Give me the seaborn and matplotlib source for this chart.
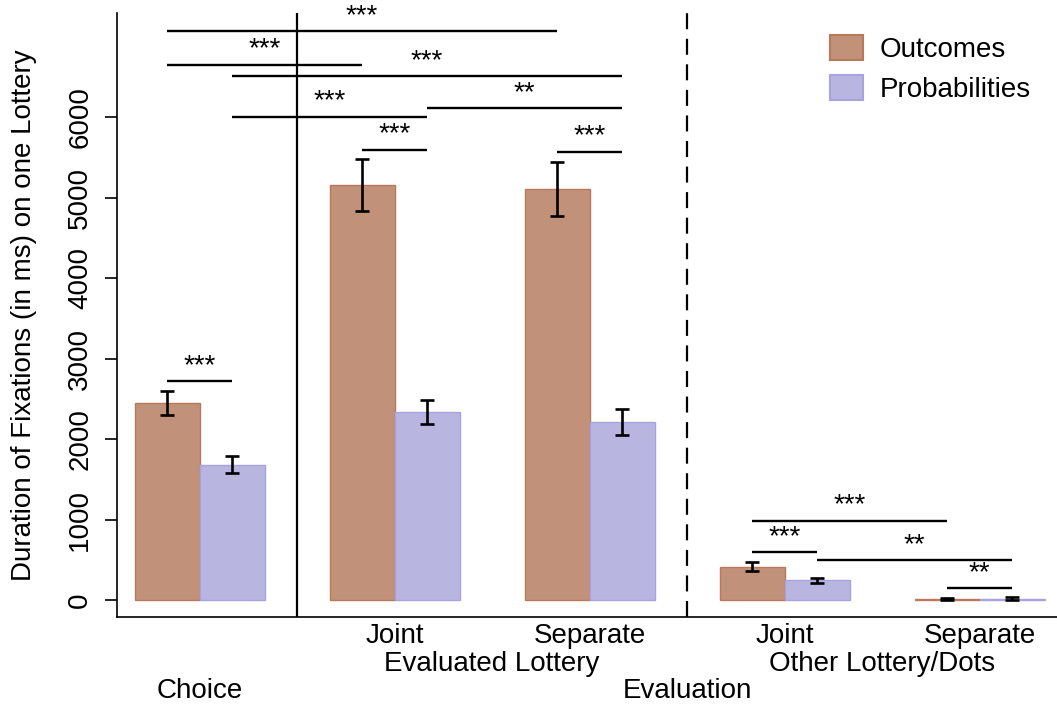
import numpy as np
import pandas as pd
import matplotlib
matplotlib.use("Agg")
import matplotlib.pyplot as plt
import seaborn as sns
from matplotlib.patches import Patch

# ---------------- data ----------------
groups = ["Choice", "Eval Joint", "Eval Separate", "Other Joint", "Other Separate"]
group_pos = [0, 3, 6, 9, 12]
measures = ["Outcomes", "Probabilities"]
outcomes_mean = [2450, 5150, 5105, 414, 8]
outcomes_se = [150, 323, 340, 54, 12]
prob_mean = [1680, 2335, 2215, 245, 17]
prob_se = [107, 150, 160, 29, 16]

# significance brackets: (group, measure) -> (group, measure), height, label
br_g1 = ["Choice", "Choice", "Choice", "Choice", "Eval Joint", "Eval Joint",
         "Eval Separate", "Choice", "Other Joint", "Other Joint", "Other Joint",
         "Other Separate"]
br_m1 = ["Outcomes", "Outcomes", "Probabilities", "Probabilities", "Probabilities",
         "Outcomes", "Outcomes", "Outcomes", "Outcomes", "Outcomes", "Probabilities",
         "Outcomes"]
br_g2 = ["Eval Separate", "Eval Joint", "Eval Separate", "Eval Joint", "Eval Separate",
         "Eval Joint", "Eval Separate", "Choice", "Other Separate", "Other Joint",
         "Other Separate", "Other Separate"]
br_m2 = ["Outcomes", "Outcomes", "Probabilities", "Probabilities", "Probabilities",
         "Probabilities", "Probabilities", "Probabilities", "Outcomes", "Probabilities",
         "Probabilities", "Probabilities"]
br_y = [7065, 6646, 6506, 6004, 6108, 5594, 5565, 2717, 985, 593, 493, 145]
br_lab = ["***", "***", "***", "***", "**", "***", "***", "***", "***", "***", "**", "**"]

yticks = [0, 1000, 2000, 3000, 4000, 5000, 6000]
ylabel = "Duration of Fixations (in ms) on one Lottery"

face_colors = {"Outcomes": "#C1917A", "Probabilities": "#B8B6E1"}
edge_colors = {"Outcomes": "#B8785C", "Probabilities": "#A8A2E0"}

df = pd.DataFrame({
    "group": groups * 2,
    "pos": group_pos * 2,
    "measure": [measures[0]] * len(groups) + [measures[1]] * len(groups),
    "mean": outcomes_mean + prob_mean,
    "se": outcomes_se + prob_se,
})

# ---------------- style ----------------
sns.set_style("ticks")
plt.rcParams["font.family"] = ["Liberation Sans", "DejaVu Sans"]
for k in ["text.color", "axes.labelcolor", "xtick.color", "ytick.color", "axes.edgecolor"]:
    plt.rcParams[k] = "black"
FS = 20

W, H = 1057, 704
fig = plt.figure(figsize=(W / 100, H / 100), dpi=100)
ax = fig.add_axes([117 / W, (H - 617) / H, (W - 117) / W, (617 - 13) / H])

sns.barplot(data=df, x="pos", y="mean", hue="measure", hue_order=measures,
            native_scale=True, orient="x", width=2 / 3, gap=0,
            palette=face_colors, saturation=1, errorbar=None, legend=False, ax=ax)

# bar centres from the drawn bars
centers = {}
for meas, cont in zip(measures, ax.containers):
    for bar in cont:
        bar.set_edgecolor(edge_colors[meas])
        bar.set_linewidth(1.0)
    sub = df[df["measure"] == meas].sort_values("pos")
    for (_, row), bar in zip(sub.iterrows(), cont):
        cx = bar.get_x() + bar.get_width() / 2
        centers[(row["group"], meas)] = cx
        ax.errorbar(cx, row["mean"], yerr=row["se"], fmt="none", ecolor="black",
                    elinewidth=1.9, capsize=5.2, capthick=1.9, zorder=5)

# separators
ax.axvline((group_pos[0] + group_pos[1]) / 2, color="black", lw=1.6, zorder=1)
ax.axvline((group_pos[2] + group_pos[3]) / 2, color="black", lw=1.6,
           linestyle=(0, (7.2, 4.3)), zorder=1)

# brackets
for g1, m1, g2, m2, yv, lab in zip(br_g1, br_m1, br_g2, br_m2, br_y, br_lab):
    x1, x2 = centers[(g1, m1)], centers[(g2, m2)]
    ax.plot([x1, x2], [yv, yv], color="black", lw=1.7, solid_capstyle="butt", zorder=6)
    ax.annotate(lab, xy=((x1 + x2) / 2, yv), xytext=(0, 6.0), textcoords="offset points",
                ha="center", va="baseline", fontsize=FS, zorder=7)

# axes
ax.set_xlim(-1.27, 13.19)
ax.set_ylim(-211, 7292)
ax.set_yticks(yticks)
ax.set_xticks([])
ax.set_xlabel("")
ax.set_ylabel(ylabel, fontsize=FS)
ax.yaxis.set_label_coords(-0.085, 0.5)
ax.tick_params(axis="y", length=8.6, width=1.2, labelsize=FS, pad=8.5, labelrotation=90)
for lbl in ax.get_yticklabels():
    lbl.set_va("center")
sns.despine(ax=ax)
for sp in ["left", "bottom"]:
    ax.spines[sp].set_linewidth(1.2)

# category labels below the axis
def under(text, x, off):
    ax.annotate(text, xy=(x, 0), xycoords=("data", "axes fraction"),
                xytext=(0, off), textcoords="offset points",
                ha="center", va="baseline", fontsize=FS)

under("Joint", group_pos[1], -18.7)
under("Separate", group_pos[2], -18.7)
under("Joint", group_pos[3], -18.7)
under("Separate", group_pos[4], -18.7)
under("Evaluated Lottery", (group_pos[1] + group_pos[2]) / 2, -38.9)
under("Other Lottery/Dots", (group_pos[3] + group_pos[4]) / 2, -38.9)
under("Choice", group_pos[0], -58.3)
under("Evaluation", (group_pos[2] + group_pos[3]) / 2, -58.3)

# legend
handles = [Patch(facecolor=face_colors[m], edgecolor=edge_colors[m], linewidth=1.5)
           for m in measures]
fig.legend(handles, measures, loc="upper left", bbox_to_anchor=(830 / W, 1 - 35.5 / H),
           bbox_transform=fig.transFigure, frameon=False, fontsize=FS,
           handlelength=1.19, handleheight=1.0, handletextpad=0.61,
           labelspacing=0.42, borderpad=0, borderaxespad=0)

fig.savefig("out.png", dpi=100)
